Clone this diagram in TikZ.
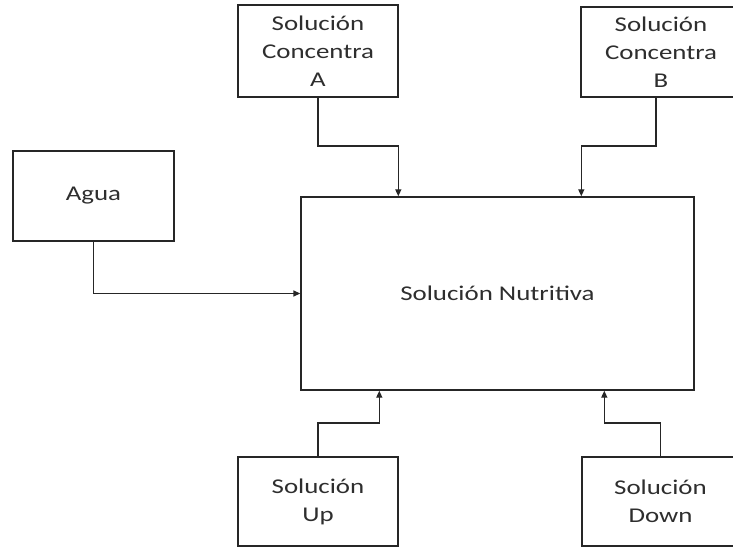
\documentclass[tikz,border=0pt]{standalone}
\usepackage{fontspec}
\setmainfont{Carlito}
\usetikzlibrary{arrows.meta}
\definecolor{ink}{HTML}{262626}
\definecolor{txt}{HTML}{2E2E2E}
\newcommand{\widetxt}[1]{\scalebox{1.28}[1]{#1}}
\tikzset{
  box/.style={draw=ink, line width=1.4pt, fill=white, inner sep=0pt, text=txt, align=center,
    font=\fontsize{21}{28}\selectfont},
  arr/.style={draw=ink, line width=1.4pt, -{Triangle[length=7pt,width=6pt]}}
}
\begin{document}
\begin{tikzpicture}[x=1pt,y=-1pt]
\useasboundingbox[fill=white] (0,0) rectangle (733,548);
\begin{scope}
\clip (0,0) rectangle (733,548);
\node[box, minimum width=160pt, minimum height=92pt] (A) at (318,51) {\widetxt{Solución}\\\widetxt{Concentra}\\\widetxt{A}};
\node[box, minimum width=160pt, minimum height=90pt] (B) at (661,52) {\widetxt{Solución}\\\widetxt{Concentra}\\\widetxt{B}};
\node[box, minimum width=161pt, minimum height=90pt] (W) at (93.5,196) {\widetxt{Agua}};
\node[box, minimum width=393pt, minimum height=193pt] (M) at (497.5,293.5) {\widetxt{Solución Nutritiva}};
\node[box, minimum width=160pt, minimum height=89pt] (U) at (318,501.5) {\widetxt{Solución}\\\widetxt{Up}};
\node[box, minimum width=157pt, minimum height=89pt] (D) at (660.5,501.5) {\widetxt{Solución}\\\widetxt{Down}};
\end{scope}
\draw[arr] (A.south) -- (A.south |- 0,146) -| ([xshift=98pt]M.north west);
\draw[arr] ([xshift=-5pt]B.south) -- ([xshift=-5pt]B.south |- 0,146) -| ([xshift=281pt]M.north west);
\draw[arr] (W.south) |- (M.west);
\draw[arr] (U.north) -- (U.north |- 0,423) -| ([xshift=79pt]M.south west);
\draw[arr] (D.north) -- (D.north |- 0,423) -| ([xshift=304pt]M.south west);
\end{tikzpicture}
\end{document}
